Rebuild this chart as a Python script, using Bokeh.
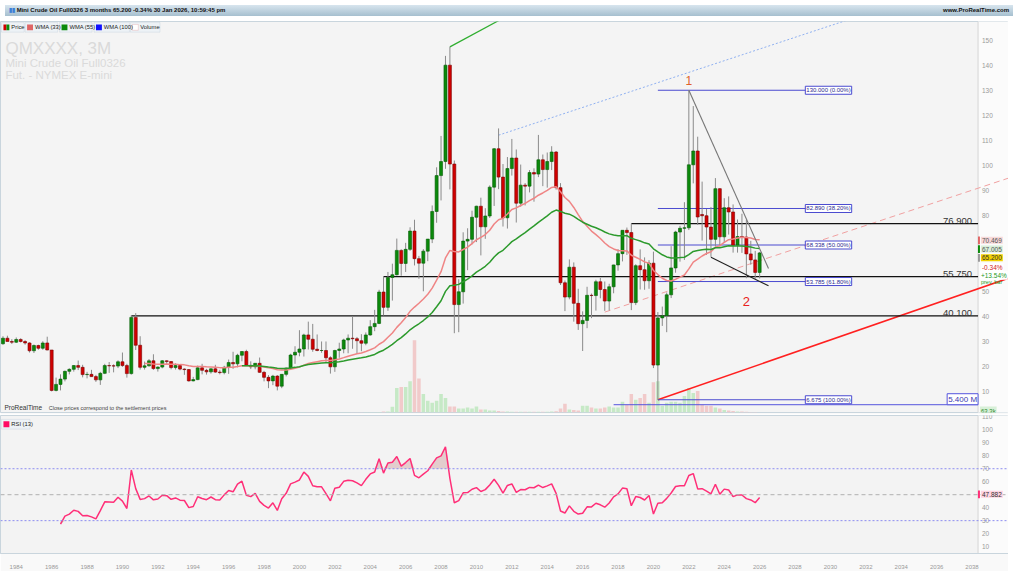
import numpy as np
import pandas as pd
from bokeh.plotting import figure
from bokeh.models import (Range1d, FixedTicker, Label, BoxAnnotation, ColumnDataSource,
                          Div, Span)
from bokeh.layouts import column
from bokeh.embed import file_html
from bokeh.resources import INLINE

# ---------------- data (quarterly) ----------------
FIRST_QUARTER = "1983Q2"

open_ = [29.0, 31.2, 29.9,
         29.6, 30.7, 29.9, 29.3, 26.2, 28.3, 27.2, 29.3, 26.5, 10.4, 12.8, 14.9,
         18.0, 18.8, 20.3, 19.6, 16.7, 16.8, 15.9, 14.6, 17.2, 20.3, 20.2, 20.1,
         21.8, 20.3, 17.1, 39.5, 28.4, 19.6, 20.2, 22.2, 19.1, 19.7, 22.2, 21.9,
         19.5, 20.3, 18.9, 18.7, 14.2, 14.7, 19.4, 18.4, 17.8, 19.0, 17.7, 17.5,
         19.6, 21.5, 21.0, 24.4, 25.9, 20.4, 19.8, 21.2, 17.6, 15.6, 14.2, 16.1,
         12.1, 16.8, 19.3, 24.5, 25.6, 26.9, 32.5, 30.8, 26.8, 26.3, 26.3, 23.4,
         19.8, 26.3, 26.9, 30.5, 31.2, 31.0, 30.2, 29.2, 32.5, 35.8, 37.1, 49.6,
         43.5, 55.4, 56.5, 66.2, 61.0, 66.6, 73.9, 62.9, 61.1, 65.9, 70.7, 81.7,
         96.0, 101.6, 140.0, 100.6, 44.6, 49.7, 69.9, 70.6, 79.4, 83.8, 75.6, 79.9,
         91.4, 106.7, 95.4, 79.2, 98.8, 103.0, 85.0, 92.2, 91.8, 97.2, 96.6, 102.3,
         98.4, 101.6, 105.4, 91.2, 53.3, 47.6, 59.5, 45.1, 37.0, 38.3, 48.3, 48.2,
         53.7, 50.6, 46.0, 51.7, 60.4, 64.9, 74.2, 73.3, 45.4, 60.1, 58.5, 54.1,
         61.1, 20.5, 39.3, 40.2, 48.5, 59.2, 73.5, 75.0, 75.2, 100.3, 105.8, 80.5,
         80.0, 75.5, 70.6, 90.8, 71.6, 83.2, 81.5, 68.2, 71.7, 71.5, 64.8, 62.4,
         57.42]
high = [32.0, 32.2, 30.8,
        31.5, 31.2, 30.4, 29.6, 28.7, 28.6, 30.0, 31.8, 26.5, 15.5, 16.8, 18.3,
        19.2, 20.5, 22.3, 20.6, 17.8, 18.6, 16.6, 17.8, 21.0, 21.7, 20.8, 22.4,
        25.5, 21.0, 40.4, 41.2, 32.0, 21.9, 22.9, 24.8, 20.0, 22.5, 22.4, 22.0,
        21.2, 20.8, 19.2, 18.9, 15.8, 20.3, 21.0, 19.0, 19.2, 20.6, 18.6, 20.2,
        22.7, 25.8, 25.0, 26.0, 26.6, 22.0, 21.2, 23.5, 18.2, 16.5, 16.6, 16.5,
        16.8, 19.5, 25.0, 28.0, 34.4, 33.0, 37.8, 36.9, 32.7, 29.9, 29.9, 24.0,
        26.6, 29.4, 31.0, 32.7, 39.9, 31.7, 32.8, 33.5, 38.4, 42.5, 50.5, 55.7,
        57.6, 60.9, 70.9, 66.6, 69.2, 75.4, 78.4, 64.0, 66.7, 70.7, 84.1, 99.3,
        111.8, 143.7, 147.3, 102.0, 54.7, 73.4, 75.0, 82.0, 84.0, 87.2, 83.0, 92.1,
        107.0, 114.8, 100.6, 103.4, 110.6, 106.4, 100.4, 93.0, 98.2, 98.9, 112.2, 104.4,
        105.2, 107.7, 105.8, 93.0, 54.2, 62.6, 61.4, 50.9, 41.9, 51.7, 49.0, 54.5,
        55.2, 53.8, 52.9, 60.5, 66.7, 74.2, 75.3, 76.9, 60.7, 66.6, 63.4, 62.3,
        65.7, 41.6, 43.8, 49.4, 67.9, 74.0, 76.0, 85.4, 130.0, 123.7, 111.5, 93.6,
        82.7, 83.5, 95.0, 91.0, 87.0, 87.7, 84.5, 78.5, 80.8, 78.4, 70.0, 66.0,
        65.6]
low = [28.6, 30.0, 28.9,
       29.3, 29.5, 28.6, 25.5, 25.3, 26.6, 26.6, 26.4, 10.0, 10.0, 10.4, 14.0,
       16.8, 17.9, 18.5, 15.6, 15.2, 15.8, 13.8, 12.6, 16.9, 17.4, 17.6, 19.3,
       19.8, 15.5, 16.7, 26.5, 18.7, 18.7, 19.9, 18.6, 17.9, 19.2, 20.6, 18.8,
       18.7, 18.4, 16.6, 13.9, 14.0, 14.5, 16.8, 16.7, 17.1, 17.4, 16.8, 16.8,
       17.0, 19.0, 19.6, 22.0, 20.2, 18.9, 18.8, 17.4, 14.0, 11.3, 12.5, 10.4,
       11.3, 16.0, 19.0, 21.0, 24.0, 23.9, 26.7, 25.8, 26.0, 25.4, 21.5, 17.1,
       17.8, 23.4, 25.2, 25.2, 27.0, 25.0, 26.0, 28.4, 32.2, 34.0, 36.8, 40.3,
       42.1, 46.2, 56.2, 56.1, 57.6, 66.0, 60.2, 54.9, 49.9, 61.9, 69.1, 77.2,
       86.1, 98.7, 90.5, 33.2, 33.6, 45.0, 58.3, 68.6, 69.5, 64.2, 70.8, 79.1,
       83.9, 90.6, 75.7, 74.9, 96.0, 77.3, 83.6, 84.1, 89.3, 85.6, 95.4, 91.8,
       91.2, 98.2, 90.4, 52.4, 42.0, 46.7, 37.8, 34.5, 26.1, 35.2, 39.2, 42.2,
       47.1, 42.1, 42.3, 49.1, 58.1, 61.8, 64.4, 42.4, 44.4, 50.6, 50.5, 50.9,
       19.3, 6.675, 36.1, 33.6, 47.2, 57.3, 61.7, 62.4, 74.3, 92.9, 76.3, 70.1,
       64.4, 63.6, 67.7, 67.7, 69.3, 72.5, 65.3, 65.3, 65.2, 55.1, 60.5, 54.9,
       55.0]
close = [31.2, 29.9, 29.6,
         30.7, 29.9, 29.3, 26.2, 28.3, 27.2, 29.3, 26.5, 10.4, 12.8, 14.9, 18.0,
         18.8, 20.3, 19.6, 16.7, 16.8, 15.9, 14.6, 17.2, 20.3, 20.2, 20.1, 21.8,
         20.3, 17.1, 39.5, 28.4, 19.6, 20.2, 22.2, 19.1, 19.7, 22.2, 21.9, 19.5,
         20.3, 18.9, 18.7, 14.2, 14.7, 19.4, 18.4, 17.8, 19.0, 17.7, 17.5, 19.6,
         21.5, 21.0, 24.4, 25.9, 20.4, 19.8, 21.2, 17.6, 15.6, 14.2, 16.1, 12.1,
         16.8, 19.3, 24.5, 25.6, 26.9, 32.5, 30.8, 26.8, 26.3, 26.3, 23.4, 19.8,
         26.3, 26.9, 30.5, 31.2, 31.0, 30.2, 29.2, 32.5, 35.8, 37.1, 49.6, 43.5,
         55.4, 56.5, 66.2, 61.0, 66.6, 73.9, 62.9, 61.1, 65.9, 70.7, 81.7, 96.0,
         101.6, 140.0, 100.6, 44.6, 49.7, 69.9, 70.6, 79.4, 83.8, 75.6, 79.9, 91.4,
         106.7, 95.4, 79.2, 98.8, 103.0, 85.0, 92.2, 91.8, 97.2, 96.6, 102.3, 98.4,
         101.6, 105.4, 91.2, 53.3, 47.6, 59.5, 45.1, 37.0, 38.3, 48.3, 48.2, 53.7,
         50.6, 46.0, 51.7, 60.4, 64.9, 74.2, 73.3, 45.4, 60.1, 58.5, 54.1, 61.1,
         20.5, 39.3, 40.2, 48.5, 59.2, 73.5, 75.0, 75.2, 100.3, 105.8, 79.5, 80.0,
         75.5, 70.6, 90.8, 71.6, 83.2, 81.5, 68.2, 71.7, 71.5, 64.8, 62.4, 57.42,
         65.2]
volume_m = [0.0, 0.0, 0.0,
            0.0, 0.0, 0.0, 0.0, 0.0, 0.0, 0.0, 0.0, 0.0, 0.0, 0.0, 0.0,
            0.0, 0.0, 0.0, 0.0, 0.0, 0.0, 0.0, 0.0, 0.0, 0.0, 0.0, 0.0,
            0.0, 0.0, 0.0, 0.0, 0.0, 0.0, 0.0, 0.0, 0.0, 0.0, 0.2, 0.2,
            0.2, 0.2, 0.2, 0.2, 0.2, 0.2, 0.2, 0.2, 0.2, 0.2, 0.2, 0.2,
            0.2, 0.2, 0.2, 0.2, 0.2, 0.2, 0.2, 0.2, 0.2, 0.2, 0.2, 0.2,
            0.2, 0.2, 0.2, 0.2, 0.2, 0.2, 0.2, 0.2, 0.2, 0.2, 0.2, 0.2,
            0.2, 0.2, 0.2, 0.2, 0.2, 0.2, 0.2, 0.2, 0.2, 0.2, 0.3, 0.7,
            0.7, 4.0, 16.9, 17.6, 17.6, 21.6, 50.0, 23.6, 12.8, 8.1, 6.8, 8.1,
            12.8, 10.1, 4.1, 4.1, 2.7, 2.7, 3.4, 2.7, 4.1, 2.0, 2.0, 1.4,
            1.4, 1.0, 0.7, 0.7, 0.6, 0.6, 0.5, 0.6, 0.5, 0.5, 0.6, 0.5,
            0.6, 0.7, 0.9, 2.7, 6.1, 2.0, 1.7, 1.4, 4.7, 4.7, 3.4, 2.7,
            2.7, 3.4, 4.1, 3.4, 3.4, 7.4, 5.4, 12.8, 8.8, 10.1, 12.8, 6.8,
            20.9, 21.6, 4.7, 6.8, 7.4, 7.4, 6.8, 11.5, 16.9, 13.5, 14.9, 5.4,
            4.7, 4.7, 3.4, 2.7, 1.7, 1.4, 1.0, 0.7, 0.7, 0.5, 0.3, 0.3,
            0.06]

price_ticks = [10, 20, 30, 40, 50, 60, 70, 80, 90, 100, 110, 120, 130, 140, 150]
price_tick_hidden = [60, 70]          # covered by the value boxes in the reference
rsi_ticks = [10, 20, 30, 40, 50, 60, 70, 80, 90, 100, 110]
year_ticks = list(range(1984, 2039, 2))

support_levels = [40.100, 55.750, 76.900]
support_start = [1990.5, 2004.75, 2018.75]

fib_levels = [130.000, 82.890, 68.338, 53.785, 6.675]
fib_pcts = ["0.00%", "38.20%", "50.00%", "61.80%", "100.00%"]
fib_x = [2020.25, 2031.2]

red_trend_x, red_trend_y = [2020.25, 2041.0], [6.675, 57.4]
pink_chan_x, pink_chan_y = [2017.25, 2041.0], [41.6, 97.2]
blue_chan_x, blue_chan_y = [2011.25, 2032.0], [112.1, 160.4]
green_x, green_y = [2008.5, 2012.0], [147.3, 160.6]
gray_x, gray_y = [2022.0, 2026.5], [130.0, 59.0]
black_x, black_y = [2023.25, 2026.5], [63.5, 52.1]
vol_level_x, vol_level = [2017.75, 2038.34], 5.4

# ---------------- derived ----------------
per = pd.period_range(FIRST_QUARTER, periods=len(close), freq="Q")
x = np.array([q.year + (q.quarter - 1) * 0.25 for q in per])
o, h, l, c = map(np.array, (open_, high, low, close))
up = c >= o


def wma(vals, n):
    w = np.arange(1, n + 1)
    out = np.full(len(vals), np.nan)
    for i in range(n - 1, len(vals)):
        out[i] = np.dot(vals[i - n + 1:i + 1], w) / w.sum()
    return out


def rsi_wilder(vals, n):
    d = np.diff(vals)
    g = np.where(d > 0, d, 0.0)
    ls = np.where(d < 0, -d, 0.0)
    out = np.full(len(vals), np.nan)
    ag, al = g[:n].mean(), ls[:n].mean()
    out[n] = 100 - 100 / (1 + ag / al)
    for i in range(n + 1, len(vals)):
        ag = (ag * (n - 1) + g[i - 1]) / n
        al = (al * (n - 1) + ls[i - 1]) / n
        out[i] = 100 - 100 / (1 + ag / al)
    return out


w33 = wma(c, 33)
w55 = wma(c, 55)
rsi = rsi_wilder(c, 13)

src = ColumnDataSource(dict(
    x=x, o=o, h=h, l=l, c=c,
    top=np.maximum(o, c), bot=np.minimum(o, c),
    fill=np.where(up, "#0b8a0b", "#d10000"),
    edge=np.where(up, "#055a05", "#7a0000"),
    vcol=np.where(up, "#c6e9c6", "#f1caca"),
    vol=np.array(volume_m)))

# ---------------- layout constants ----------------
FW, FH, RH = 1008, 391, 138
SX, SY = FW / 1024.0, FH / 402.0
FONT = "Liberation Sans"
AXIS_X = 2038.34           # left edge of the price-scale strip


def psx(rx):
    return rx * SX


def psy(ry):
    return FH - (ry - 11) * SY


def rsy(ry):
    return RH - (ry - 416) * SY


def sbox(fig_y, x0, x1, y0, y1, **kw):
    kw.setdefault("fill_alpha", 1)
    return BoxAnnotation(left=psx(x0), right=psx(x1), top=fig_y(y0), bottom=fig_y(y1),
                         left_units="screen", right_units="screen",
                         top_units="screen", bottom_units="screen", **kw)


xr = Range1d(1983.11, 2040.06)

# ---------------- price panel ----------------
p = figure(frame_width=FW, frame_height=FH, x_range=xr, y_range=Range1d(1.6, 157.4),
           x_axis_location=None, y_axis_location=None, toolbar_location=None,
           output_backend="svg", min_border_left=0, min_border_top=0,
           min_border_bottom=2, min_border_right=0,
           background_fill_color="#f4f4f4", border_fill_color="#f9f9f9",
           outline_line_color="#c9d5dd")
p.xgrid.grid_line_color = None
p.ygrid.grid_line_color = None
p.extra_y_ranges = {"vol": Range1d(0, 271)}

# price-scale strip
p.add_layout(sbox(psy, 993, 1030, 0, 420, fill_color="#fbfbfb", line_color=None,
                  level="underlay"))
p.add_layout(Span(location=AXIS_X, dimension="height", line_color="#d6d6d6", line_width=1,
                  level="underlay"))
for t in price_ticks:
    if t in price_tick_hidden:
        continue
    p.add_layout(Label(x=psx(997), x_units="screen", y=t, text=str(t), text_baseline="middle",
                       text_font=FONT, text_font_size="6.5px", text_color="#9a9a9a"))

# volume
p.vbar(x="x", top="vol", bottom=0, width=0.2, fill_color="vcol", line_color=None,
       y_range_name="vol", source=src)

# watermark
p.add_layout(Label(x=psx(5), y=psy(29), x_units="screen", y_units="screen",
                   text="QMXXXX, 3M", text_baseline="top", text_font=FONT,
                   text_font_size="17px", text_color="#dadada"))
p.add_layout(Label(x=psx(5), y=psy(47), x_units="screen", y_units="screen",
                   text="Mini Crude Oil Full0326", text_baseline="top", text_font=FONT,
                   text_font_size="11.5px", text_color="#dadada"))
p.add_layout(Label(x=psx(5), y=psy(60), x_units="screen", y_units="screen",
                   text="Fut. - NYMEX E-mini", text_baseline="top", text_font=FONT,
                   text_font_size="11.5px", text_color="#dadada"))

# channel / trend lines
p.line(blue_chan_x, blue_chan_y, line_color="#8fb0f0", line_width=1, line_dash="2 2")
p.line(pink_chan_x, pink_chan_y, line_color="#f0a0a0", line_width=1, line_dash="6 4")
p.line(green_x, green_y, line_color="#2fae2f", line_width=1.2)
p.line(red_trend_x, red_trend_y, line_color="#ff2020", line_width=1.6)

# support lines
for lv, xs in zip(support_levels, support_start):
    p.segment(x0=[xs], y0=[lv], x1=[AXIS_X], y1=[lv], line_color="#111111", line_width=1.2)
    p.add_layout(Label(x=2038.0, y=lv, text=f"{lv:.3f}", text_align="right",
                       text_baseline="bottom", text_font=FONT, text_font_size="9.5px",
                       text_color="#333333"))

# fib retracement
for lv, pc in zip(fib_levels, fib_pcts):
    p.segment(x0=[fib_x[0]], y0=[lv], x1=[fib_x[1]], y1=[lv], line_color="#4a4ad0",
              line_width=1)
    p.add_layout(Label(x=fib_x[1], y=lv, text=f"{lv:.3f} ({pc})", text_align="right",
                       text_baseline="middle", text_font=FONT, text_font_size="6px",
                       text_color="#2a2a90", background_fill_color="white",
                       border_line_color="#4a4ad0", padding=1))

# volume level line
p.segment(x0=[vol_level_x[0]], y0=[vol_level], x1=[vol_level_x[1]], y1=[vol_level],
          line_color="#5555dd", line_width=1, y_range_name="vol")
p.add_layout(Label(x=AXIS_X, y=vol_level, y_range_name="vol",
                   text="5.400 M", text_align="right", text_baseline="bottom",
                   text_font=FONT, text_font_size="8px", text_color="#3a3ab0",
                   background_fill_color="white", border_line_color="#5555dd", padding=1))

# candles
p.segment(x0="x", y0="l", x1="x", y1="h", line_color="#8a8a8a", line_width=1, source=src)
p.vbar(x="x", top="top", bottom="bot", width=0.17, fill_color="fill",
       line_color="edge", line_width=0.6, source=src)

# moving averages
p.line(x, w33, line_color="#ef8585", line_width=1.5)
p.line(x, w55, line_color="#2c9a2c", line_width=1.5)

# wedge lines
p.line(gray_x, gray_y, line_color="#777777", line_width=1.1)
p.line(black_x, black_y, line_color="#222222", line_width=1.1)

# wave labels
p.add_layout(Label(x=2022.0, y=133.8, text="1", text_align="center", text_baseline="middle",
                   text_font=FONT, text_font_size="12px", text_color="#e0602a"))
p.add_layout(Label(x=2025.25, y=45.8, text="2", text_align="center", text_baseline="middle",
                   text_font=FONT, text_font_size="13px", text_color="#e82020"))

# legend chips
chips = [("Price", 1, 24, None), ("WMA (33)", 25, 58, "#e06666"),
         ("WMA (55)", 60, 93, "#0a8a0a"), ("WMA (100)", 95, 131, "#1010ff"),
         ("Volume", 132, 162, "vol")]
for name, x0, x1, col in chips:
    p.add_layout(sbox(psy, x0, x1, 12, 22, fill_color="#edf2f6", line_color="#b7c8d4"))
    if col is None:
        p.add_layout(sbox(psy, x0 + 2, x0 + 5, 14, 20, fill_color="#d10000", line_color=None))
        p.add_layout(sbox(psy, x0 + 5, x0 + 8, 14, 20, fill_color="#0b8a0b", line_color=None))
    elif col == "vol":
        p.add_layout(sbox(psy, x0 + 2, x0 + 8, 14, 20, fill_color="white",
                          line_color="#e08a8a"))
    else:
        p.add_layout(sbox(psy, x0 + 2, x0 + 8, 14, 20, fill_color=col, line_color=None))
for name, x0, x1, col in chips:
    p.add_layout(Label(x=psx(x0 + 10), y=psy(17), x_units="screen", y_units="screen",
                       text=name, text_baseline="middle", text_font=FONT,
                       text_font_size="5.8px", text_color="#222222"))

# bottom caption
p.add_layout(Label(x=psx(4), y=2, x_units="screen", y_units="screen", text="ProRealTime",
                   text_baseline="bottom", text_font=FONT, text_font_size="6.5px",
                   text_color="#333333"))
p.add_layout(Label(x=psx(49), y=2, x_units="screen", y_units="screen",
                   text="Close prices correspond to the settlement prices",
                   text_baseline="bottom", text_font=FONT, text_font_size="5.5px",
                   text_color="#444444"))

# right-side value boxes
vals = [("70.469", 236, "#f7d9d9", "#555555", "#e06666"),
        ("67.005", 245, "#d9efd9", "#555555", "#0a8a0a"),
        ("65.200", 254, "#f2d200", "#333333", "#999999")]
for t, ry, bg, tc, mark in vals:
    p.add_layout(sbox(psy, 993, 995, ry - 4, ry + 4, fill_color=mark, line_color=None))
    p.add_layout(Label(x=psx(996), x_units="screen", y=psy(ry), y_units="screen", text=t,
                       text_baseline="middle", text_font=FONT, text_font_size="6.5px",
                       text_color=tc, background_fill_color=bg, padding=1))
p.add_layout(Label(x=psx(996), x_units="screen", y=psy(264), y_units="screen", text="-0.34%",
                   text_baseline="middle", text_font=FONT, text_font_size="6.5px",
                   text_color="#d02020", background_fill_color="white", padding=1))
p.add_layout(Label(x=psx(995), x_units="screen", y=psy(272), y_units="screen", text="+13.54%",
                   text_baseline="middle", text_font=FONT, text_font_size="6.5px",
                   text_color="#1f9a1f", background_fill_color="white", padding=1))
p.add_layout(Label(x=psx(996), x_units="screen", y=psy(279), y_units="screen",
                   text="prev. bar", text_baseline="middle", text_font=FONT,
                   text_font_size="5.5px", text_color="#1f9a1f"))
p.add_layout(Label(x=psx(995), x_units="screen", y=psy(411), y_units="screen", text="63.3k",
                   text_baseline="middle", text_font=FONT, text_font_size="6px",
                   text_color="#2a8a2a", background_fill_color="#d8f0d8", padding=1))

# ---------------- RSI panel ----------------
r = figure(frame_width=FW, frame_height=RH, x_range=xr, y_range=Range1d(4.7, 111.0),
           x_axis_location="below", y_axis_location=None, toolbar_location=None,
           output_backend="svg", min_border_left=0, min_border_top=1,
           min_border_bottom=17, min_border_right=0,
           background_fill_color="#f3f3f3", border_fill_color="#f9f9f9",
           outline_line_color="#c9d5dd")
r.xgrid.grid_line_color = None
r.ygrid.grid_line_color = None

r.add_layout(sbox(rsy, 993, 1030, 410, 570, fill_color="#fbfbfb", line_color=None,
                  level="underlay"))
r.add_layout(Span(location=AXIS_X, dimension="height", line_color="#d6d6d6", line_width=1,
                  level="underlay"))
for t in rsi_ticks:
    r.add_layout(Label(x=psx(997), x_units="screen", y=t, text=str(t), text_baseline="middle",
                       text_font=FONT, text_font_size="6.5px", text_color="#9a9a9a"))

xa = r.xaxis[0]
xa.ticker = FixedTicker(ticks=year_ticks)
xa.major_label_text_font_size = "6px"
xa.major_label_text_color = "#9a9a9a"
xa.major_label_text_font = FONT
xa.axis_line_color = "#c9d5dd"
xa.major_tick_line_color = None
xa.minor_tick_line_color = None
xa.major_label_standoff = 5

for lv, colr, dash in [(70, "#8c8cf0", "2 2"), (30, "#8c8cf0", "2 2"), (50, "#b0b0b0", "4 3")]:
    r.add_layout(Span(location=lv, dimension="width", line_color=colr, line_width=1,
                      line_dash=dash))

ok = ~np.isnan(rsi)
r.varea(x=x[ok], y1=np.full(ok.sum(), 70.0), y2=np.maximum(rsi[ok], 70.0),
        fill_color="#dcbcbc", fill_alpha=0.7)
r.varea(x=x[ok], y1=np.minimum(rsi[ok], 30.0), y2=np.full(ok.sum(), 30.0),
        fill_color="#bcdcbc", fill_alpha=0.7)
r.line(x, rsi, line_color="#ff2f78", line_width=1.5)

r.add_layout(sbox(rsy, 1, 30, 420, 430, fill_color="#edf2f6", line_color="#b7c8d4"))
r.add_layout(sbox(rsy, 3, 9, 422, 428, fill_color="#ff0a64", line_color=None))
r.add_layout(Label(x=psx(11), y=rsy(425), x_units="screen", y_units="screen",
                   text="RSI (13)", text_baseline="middle", text_font=FONT,
                   text_font_size="5.8px", text_color="#222222"))
r.add_layout(sbox(rsy, 993, 995, 493, 501, fill_color="#ff2f78", line_color=None))
r.add_layout(Label(x=psx(996), x_units="screen", y=rsy(497), y_units="screen", text="47.882",
                   text_baseline="middle", text_font=FONT, text_font_size="6.5px",
                   text_color="#333333", background_fill_color="#ffd3e2", padding=1))

# ---------------- title bar ----------------
title_html = ('<span style="position:absolute;left:4px;top:0;white-space:nowrap;">'
              '<span style="color:#3d7fd6;">&#9646;&#9646;</span> '
              'Mini Crude Oil Full0326 3 months 65.200 -0.34% 30 Jan 2026, 10:59:45 pm</span>'
              '<span style="position:absolute;right:4px;top:0;white-space:nowrap;">'
              'www.ProRealTime.com</span>')
bar = Div(text=title_html, width=FW, height=11,
          styles={"background": "linear-gradient(#d7e5ee, #a6bfcf)",
                  "font-family": "Liberation Sans, Arial, sans-serif",
                  "font-size": "6px", "color": "#111", "line-height": "11px",
                  "overflow": "hidden", "font-weight": "600", "width": f"{FW}px",
                  "height": "11px", "position": "relative"})

layout = column(bar, p, r, spacing=0)
open("out.html", "w").write(file_html(layout, INLINE))
